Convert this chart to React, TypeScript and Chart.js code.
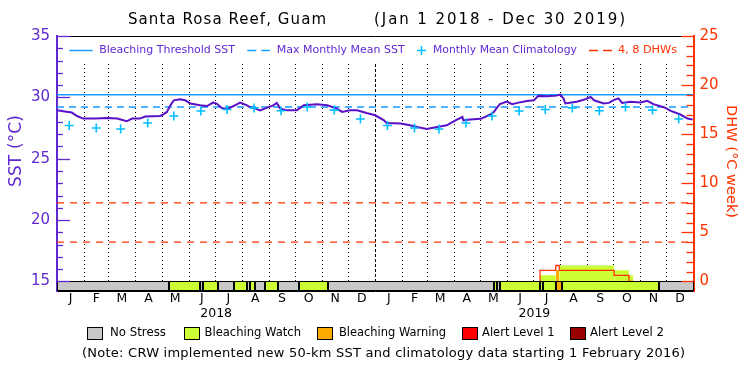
import React, { useEffect, useRef } from 'react';
import { Chart, registerables } from 'chart.js';

Chart.register(...registerables);

const FONT = '"DejaVu Sans", "Liberation Sans", sans-serif';
const PURPLE = '#5f28d2';
const SST_COLOR = '#5a10c6';
const RED = '#ff3300';
const BLUE = '#1a9cff';
const CYAN = '#00bfff';

// ---- data (day index counted from Jan 1 2018) ----
const sstDay = [
  0, 7, 17, 23, 30, 44, 57, 69, 80, 86, 95, 101, 118, 122, 126, 130, 134, 141, 147, 153,
  164, 172, 179, 183, 189, 195, 204, 210, 218, 221, 227, 233, 241, 248, 252, 256, 264, 275,
  283, 298, 310, 321, 327, 336, 344, 355, 365, 375, 378, 394, 405, 413, 424, 436, 447, 457,
  465, 466, 474, 486, 497, 501, 505, 508, 516, 522, 528, 539, 547, 552, 562, 573, 577, 581,
  583, 596, 604, 612, 616, 627, 633, 639, 644, 648, 658, 669, 677, 684, 696, 704, 715, 723, 729,
];
const sstValue = [
  28.94, 28.86, 28.76, 28.48, 28.27, 28.27, 28.32, 28.27, 28.05, 28.27, 28.27, 28.43, 28.48,
  28.62, 28.81, 29.35, 29.76, 29.84, 29.76, 29.49, 29.35, 29.29, 29.57, 29.49, 29.13, 29.03,
  29.35, 29.57, 29.35, 29.21, 29.1, 28.94, 29.16, 29.35, 29.54, 29.08, 28.94, 28.94, 29.35,
  29.43, 29.35, 29.08, 28.81, 28.94, 28.94, 28.72, 28.54, 28.13, 27.91, 27.86, 27.72, 27.58,
  27.42, 27.58, 27.72, 28.13, 28.4, 28.13, 28.19, 28.25, 28.6, 28.8, 29.2, 29.45, 29.66,
  29.45, 29.55, 29.7, 29.76, 30.12, 30.09, 30.14, 30.22, 29.9, 29.5, 29.65, 29.8, 30.03,
  29.76, 29.5, 29.55, 29.8, 29.92, 29.55, 29.65, 29.58, 29.72, 29.45, 29.2, 28.9, 28.6,
  28.27, 28.19,
];
const climatology = [27.7, 27.5, 27.42, 27.91, 28.48, 28.89, 29.01, 29.14, 28.91, 29.21, 28.96, 28.23];
const maxMonthlyMean = 29.21;
const bleachingThreshold = 30.21;
const dhwRefLines = [4, 8];

const dhwDay = [554, 554, 572, 576, 639, 656, 661];
const dhwValue = [0, 0.62, 1.13, 1.62, 1.13, 0.62, 0];

const stressStart = [0, 129, 164, 168, 185, 203.5, 218, 221, 227, 238, 253, 277, 311, 501, 505, 508.5, 554.4, 557, 572, 579, 691];
const stressLevel = [0, 1, 0, 1, 0, 1, 0, 1, 0, 1, 0, 1, 0, 1, 0, 1, 1, 1, 2, 1, 0];
const stressNames = ['No Stress', 'Bleaching Watch', 'Bleaching Warning', 'Alert Level 1', 'Alert Level 2'];
const stressColors = ['#c8c8c8', '#ccff33', '#ffaa00', '#ff0000', '#990000'];

const monthLetters = ['J', 'F', 'M', 'A', 'M', 'J', 'J', 'A', 'S', 'O', 'N', 'D'];
const years = [2018, 2019];
const yTicks = [15, 20, 25, 30, 35];
const y2Ticks = [0, 5, 10, 15, 20, 25];

const X_MAX = 730;
const Y_MIN = 14.218;
const Y_MAX = 35;
const Y2_MIN = (Y_MIN - 15) / 0.8;
const Y2_MAX = 25;

const dayOf = (y: number, m: number, d: number) =>
  Math.round((Date.UTC(y, m, d) - Date.UTC(2018, 0, 1)) / 864e5);

const monthStarts: number[] = [];
years.forEach((y) => { for (let m = 0; m < 12; m++) monthStarts.push(dayOf(y, m, 1)); });
const yearStarts = years.map((y) => dayOf(y, 0, 1));

const xTickList: { value: number; label: string | string[] }[] = [];
years.forEach((y) => {
  for (let m = 0; m < 12; m++) {
    const s = dayOf(y, m, 1);
    const e = dayOf(m === 11 ? y + 1 : y, (m + 1) % 12, 1);
    xTickList.push({ value: (s + e) / 2, label: monthLetters[m] });
  }
  xTickList.push({ value: (dayOf(y, 0, 1) + dayOf(y + 1, 0, 1)) / 2, label: ['', String(y)] });
});
xTickList.sort((a, b) => a.value - b.value);

// draws text spanning `width` px centred at (cx, cy): keeps the given size and
// widens with letter spacing, or shrinks the font when the text is too wide
function drawFit(ctx: CanvasRenderingContext2D, text: string, cx: number, cy: number, width: number, color: string, size: number, rot = 0) {
  ctx.save();
  ctx.font = `${size}px ${FONT}`;
  const c: any = ctx;
  const canSpace = 'letterSpacing' in c;
  if (canSpace) c.letterSpacing = '0px';
  let w = ctx.measureText(text).width;
  let spacing = 0;
  if (w > width || !canSpace) {
    size = (size * width) / w;
    ctx.font = `${size.toFixed(2)}px ${FONT}`;
    w = width;
  } else if (text.length > 1) {
    spacing = (width - w) / (text.length - 1);
    c.letterSpacing = `${spacing.toFixed(3)}px`;
  }
  ctx.fillStyle = color;
  ctx.textAlign = 'left';
  ctx.textBaseline = 'middle';
  ctx.translate(cx, cy);
  if (rot) ctx.rotate(rot);
  ctx.fillText(text, -width / 2, 0);
  ctx.restore();
}

function hLine(ctx: CanvasRenderingContext2D, x0: number, x1: number, y: number, color: string, dash: number[] = [], lw = 1.5) {
  ctx.save();
  ctx.strokeStyle = color;
  ctx.lineWidth = lw;
  ctx.setLineDash(dash);
  ctx.beginPath();
  ctx.moveTo(x0, y);
  ctx.lineTo(x1, y);
  ctx.stroke();
  ctx.restore();
}

const overlay = {
  id: 'overlay',
  beforeDatasetsDraw(chart: any) {
    const { ctx, scales } = chart;
    const xs = scales.x;
    const yTop = Math.round(scales.y.getPixelForValue(32.75));
    const yBot = scales.y2.getPixelForValue(0);
    ctx.save();
    ctx.strokeStyle = '#000';
    ctx.lineWidth = 1;
    monthStarts.forEach((d) => {
      if (d <= 0 || d >= X_MAX) return;
      const px = Math.round(xs.getPixelForValue(d)) + 0.5;
      ctx.setLineDash(yearStarts.includes(d) ? [3, 2] : [1, 3]);
      ctx.beginPath();
      ctx.moveTo(px, yTop);
      ctx.lineTo(px, yBot);
      ctx.stroke();
    });
    ctx.restore();
  },
  afterDraw(chart: any) {
    const { ctx, scales, chartArea: a } = chart;
    const xs = scales.x, ys = scales.y, y2 = scales.y2;

    // stress bar
    const yb0 = Math.round(y2.getPixelForValue(0)) + 0.5;
    const yb1 = Math.round(a.bottom) - 0.5;
    ctx.save();
    ctx.strokeStyle = '#000';
    ctx.lineWidth = 1;
    stressStart.forEach((s, i) => {
      const e = i < stressStart.length - 1 ? stressStart[i + 1] : X_MAX;
      const x0 = Math.round(xs.getPixelForValue(s)) + 0.5;
      const x1 = Math.round(xs.getPixelForValue(e)) - 0.5;
      ctx.fillStyle = stressColors[stressLevel[i]];
      ctx.fillRect(x0, yb0, x1 - x0, yb1 - yb0);
      ctx.strokeRect(x0, yb0, x1 - x0, yb1 - yb0);
    });
    ctx.restore();

    // top frame
    hLine(ctx, a.left, a.right, Math.round(a.top) + 0.5, '#000', [], 1);

    // inner tick marks
    for (let v = 15; v <= 35; v++) {
      const py = Math.round(ys.getPixelForValue(v)) + 0.5;
      hLine(ctx, a.left, a.left + (v % 5 === 0 ? 13 : 6), py, PURPLE, [], 1.3);
    }
    for (let v = 0; v <= 25; v++) {
      const py = Math.round(y2.getPixelForValue(v)) + 0.5;
      hLine(ctx, a.right - (v % 5 === 0 ? 12 : 7), a.right, py, RED, [], 1.3);
    }

    // title
    drawFit(ctx, 'Santa Rosa Reef, Guam', 227, 20, 198, '#000', 15);
    drawFit(ctx, '(Jan 1 2018 - Dec 30 2019)', 499.5, 20, 251, '#000', 15);

    // axis titles
    drawFit(ctx, 'SST (°C)', 17, 151, 72, PURPLE, 17, -Math.PI / 2);
    drawFit(ctx, 'DHW (°C week)', 731, 161.5, 113, RED, 17, Math.PI / 2);

    // top legend
    const ly = 50.5;
    hLine(ctx, 69.3, 92.7, ly, BLUE, [], 1.5);
    drawFit(ctx, 'Bleaching Threshold SST', (99.3 + 235) / 2, ly, 135.7, PURPLE, 12.5);
    hLine(ctx, 247.3, 270, ly, BLUE, [9, 5], 1.5);
    drawFit(ctx, 'Max Monthly Mean SST', (276.7 + 405) / 2, ly, 128.3, PURPLE, 12.5);
    hLine(ctx, 417, 426, ly, CYAN, [], 1.5);
    ctx.save();
    ctx.strokeStyle = CYAN; ctx.lineWidth = 1.5;
    ctx.beginPath(); ctx.moveTo(421.5, ly - 4.5); ctx.lineTo(421.5, ly + 4.5); ctx.stroke();
    ctx.restore();
    drawFit(ctx, 'Monthly Mean Climatology', (433 + 577) / 2, ly, 144, PURPLE, 12.5);
    hLine(ctx, 589, 612, ly, RED, [9, 5], 1.5);
    drawFit(ctx, '4, 8 DHWs', (618 + 677) / 2, ly, 59, RED, 12.5);

    // bottom legend
    const by = 333;
    const boxX = [87, 184, 317, 462, 570];
    const txt = [[110, 166], [204.5, 301], [339, 446], [482, 554.5], [590, 664]];
    ctx.save();
    stressNames.forEach((n, i) => {
      ctx.fillStyle = stressColors[i];
      ctx.fillRect(boxX[i] + 0.5, by - 6 + 0.5, 15, 12);
      ctx.strokeStyle = '#000';
      ctx.lineWidth = 1;
      ctx.strokeRect(boxX[i] + 0.5, by - 6 + 0.5, 15, 12);
      drawFit(ctx, n, (txt[i][0] + txt[i][1]) / 2, by, txt[i][1] - txt[i][0], '#000', 12.5);
    });
    ctx.restore();

    drawFit(ctx, '(Note: CRW implemented new 50-km SST and climatology data starting 1 February 2016)', (82 + 685) / 2, 354, 603, '#000', 13);
  },
};

export default function App() {
  const ref = useRef<HTMLCanvasElement | null>(null);

  useEffect(() => {
    if (!ref.current) return;

    const sstData = sstDay.map((d, i) => ({ x: d, y: sstValue[i] }));
    const climData: { x: number; y: number }[] = [];
    years.forEach((y) => climatology.forEach((v, m) => climData.push({ x: dayOf(y, m, 15), y: v })));
    const dhwData = dhwDay.map((d, i) => ({ x: d, y: dhwValue[i] }));

    const stressAt = (d: number) => {
      let lvl = 0;
      stressStart.forEach((s, i) => { if (d >= s) lvl = stressLevel[i]; });
      return lvl;
    };

    const dhwFillSets: any[] = [];
    for (let i = 0; i < dhwDay.length - 1; i++) {
      if (dhwValue[i] <= 0 || dhwDay[i + 1] <= dhwDay[i]) continue;
      dhwFillSets.push({
        type: 'line',
        data: [{ x: dhwDay[i], y: dhwValue[i] }, { x: dhwDay[i + 1], y: dhwValue[i] }],
        yAxisID: 'y2',
        borderWidth: 0,
        borderColor: 'rgba(0,0,0,0)',
        backgroundColor: stressColors[stressAt((dhwDay[i] + dhwDay[i + 1]) / 2)],
        fill: 'origin',
        pointRadius: 0,
        order: 6,
      });
    }

    const datasets: any[] = [
      {
        label: 'SST',
        data: sstData,
        yAxisID: 'y',
        borderColor: SST_COLOR,
        borderWidth: 2,
        pointRadius: 0,
        tension: 0,
        fill: false,
        order: 2,
      },
      {
        label: 'Bleaching Threshold SST',
        data: [{ x: 0, y: bleachingThreshold }, { x: X_MAX, y: bleachingThreshold }],
        yAxisID: 'y',
        borderColor: BLUE,
        borderWidth: 1.5,
        pointRadius: 0,
        fill: false,
        order: 4,
      },
      {
        label: 'Max Monthly Mean SST',
        data: [{ x: 0, y: maxMonthlyMean }, { x: X_MAX, y: maxMonthlyMean }],
        yAxisID: 'y',
        borderColor: BLUE,
        borderWidth: 1.5,
        borderDash: [7, 5],
        pointRadius: 0,
        fill: false,
        order: 4,
      },
      {
        label: 'Monthly Mean Climatology',
        data: climData,
        yAxisID: 'y',
        showLine: false,
        pointStyle: 'cross',
        pointRadius: 4.5,
        pointBorderWidth: 1.6,
        pointBorderColor: CYAN,
        borderColor: CYAN,
        order: 1,
      },
      ...dhwRefLines.map((v) => ({
        label: `${v} DHW`,
        data: [{ x: 0, y: v }, { x: X_MAX, y: v }],
        yAxisID: 'y2',
        borderColor: RED,
        borderWidth: 1.3,
        borderDash: [7, 6],
        pointRadius: 0,
        fill: false,
        order: 5,
      })),
      ...dhwFillSets,
      {
        label: 'DHW',
        data: dhwData,
        yAxisID: 'y2',
        stepped: 'after',
        borderColor: RED,
        borderWidth: 1.3,
        pointRadius: 0,
        fill: false,
        order: 3,
      },
    ];

    const chart = new Chart(ref.current, {
      type: 'line',
      data: { datasets },
      options: {
        animation: false,
        responsive: false,
        devicePixelRatio: 1,
        events: [],
        layout: { padding: { left: 0, right: 0, top: 36, bottom: 44 } },
        plugins: {
          legend: { display: false },
          title: { display: false },
          tooltip: { enabled: false },
        },
        scales: {
          x: {
            type: 'linear',
            min: 0,
            max: X_MAX,
            afterFit: (s: any) => { s.height = 40; },
            afterBuildTicks: (s: any) => { s.ticks = xTickList.map((t) => ({ value: t.value })); },
            ticks: {
              autoSkip: false,
              maxRotation: 0,
              minRotation: 0,
              padding: 0,
              color: '#000',
              font: { family: FONT, size: 12.5 },
              callback: (_v: any, i: number) => xTickList[i] ? xTickList[i].label : '',
            },
            grid: { display: false, drawTicks: false },
            border: { display: true, color: '#000', width: 1 },
          },
          y: {
            type: 'linear',
            position: 'left',
            min: Y_MIN,
            max: Y_MAX,
            afterFit: (s: any) => { s.width = 57; },
            afterBuildTicks: (s: any) => { s.ticks = yTicks.map((v) => ({ value: v })); },
            ticks: { padding: 7, color: PURPLE, font: { family: FONT, size: 15 } },
            grid: { display: false, drawTicks: false },
            border: { display: true, color: PURPLE, width: 2 },
          },
          y2: {
            type: 'linear',
            position: 'right',
            min: Y2_MIN,
            max: Y2_MAX,
            afterFit: (s: any) => { s.width = 56.5; },
            afterBuildTicks: (s: any) => { s.ticks = y2Ticks.map((v) => ({ value: v })); },
            ticks: { padding: 6, color: RED, font: { family: FONT, size: 15 } },
            grid: { display: false, drawTicks: false },
            border: { display: true, color: RED, width: 2 },
          },
        },
      } as any,
      plugins: [overlay],
    });

    return () => chart.destroy();
  }, []);

  return (
    <div style={{ position: 'fixed', left: 0, top: 0, width: 750, height: 375, background: '#fff' }}>
      <canvas ref={ref} width={750} height={375} style={{ display: 'block', width: 750, height: 375 }} />
    </div>
  );
}
